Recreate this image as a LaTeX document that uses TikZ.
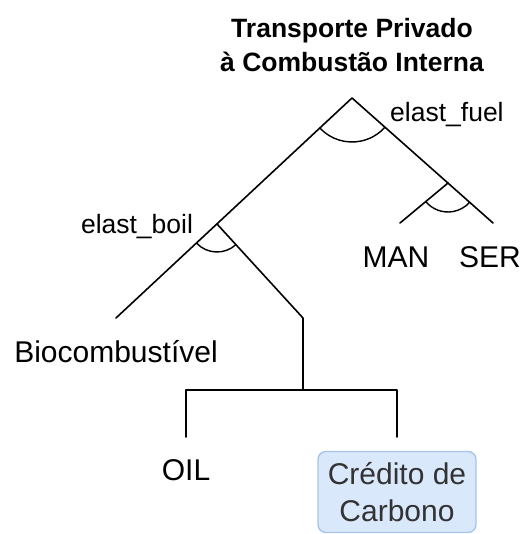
\documentclass[tikz,border=0pt]{standalone}
\usepackage{fontspec}
\setmainfont{Liberation Sans}
\usepackage{tikz}
\definecolor{ncFill}{HTML}{DAE8FC}
\definecolor{ncLine}{HTML}{A9C4EB}
\definecolor{ncText}{HTML}{333333}

\begin{document}
\begin{tikzpicture}[x=1pt, y=1pt,
    branch/.style={line width=1.6pt, line cap=round, line join=round},
    elast/.style={line width=1.4pt},
    lbl/.style={font=\fontsize{30}{37}\selectfont, inner sep=0pt, align=center},
    par/.style={font=\fontsize{26.5}{32}\selectfont, inner sep=0pt},
    box/.style={rectangle, rounded corners=8pt, draw=ncLine, line width=1.4pt, fill=ncFill,
                text=ncText, minimum width=158pt, minimum height=81pt, align=center,
                font=\fontsize{30}{37}\selectfont, inner sep=0pt}
  ]
  \useasboundingbox (0,0) rectangle (528,534);

  % tree points
  \coordinate (top)    at (352,436);
  \coordinate (fuel)   at (448,351);
  \coordinate (boil)   at (217,310);
  \coordinate (bioEnd) at (116,216);
  \coordinate (serEnd) at (493,311);
  \coordinate (manEnd) at (400,311);
  \coordinate (stem)   at (303,216);
  \coordinate (bar)    at (303,144);
  \coordinate (barL)   at (186,144);
  \coordinate (barR)   at (397,144);
  \coordinate (oilEnd) at (186,97);
  \coordinate (crdEnd) at (397,97);

  \node[font=\bfseries\fontsize{26.5}{34}\selectfont, align=center] (title) at (352,489)
    {Transporte Privado\\à Combustão Interna};

  \draw[branch] (bioEnd) -- (top) -- (serEnd);
  \draw[branch] (fuel) -- (manEnd);
  \draw[branch] (boil) -- (stem) -- (bar);
  \draw[branch] (oilEnd) -- (barL) -- (barR) -- (crdEnd);

  \draw[elast] ([shift={(223:44)}]top) arc[start angle=223, end angle=318.4, radius=44];
  \draw[elast] ([shift={(219.8:29)}]fuel) arc[start angle=219.8, end angle=318.4, radius=29];
  \draw[elast] ([shift={(223:28)}]boil) arc[start angle=223, end angle=312.5, radius=28];

  \node[par, anchor=west] (efuel) at (390,419) {elast\_fuel};
  \node[par] (eboil) at (137,307) {elast\_boil};

  \node[lbl] (man) at (396,277) {MAN};
  \node[lbl] (ser) at (490,277) {SER};
  \node[lbl] (bio) at (116,182) {Biocombustível};
  \node[lbl] (oil) at (186,64)  {OIL};
  \node[box] (crd) at (397,42)  {Crédito de\\Carbono};
\end{tikzpicture}
\end{document}
